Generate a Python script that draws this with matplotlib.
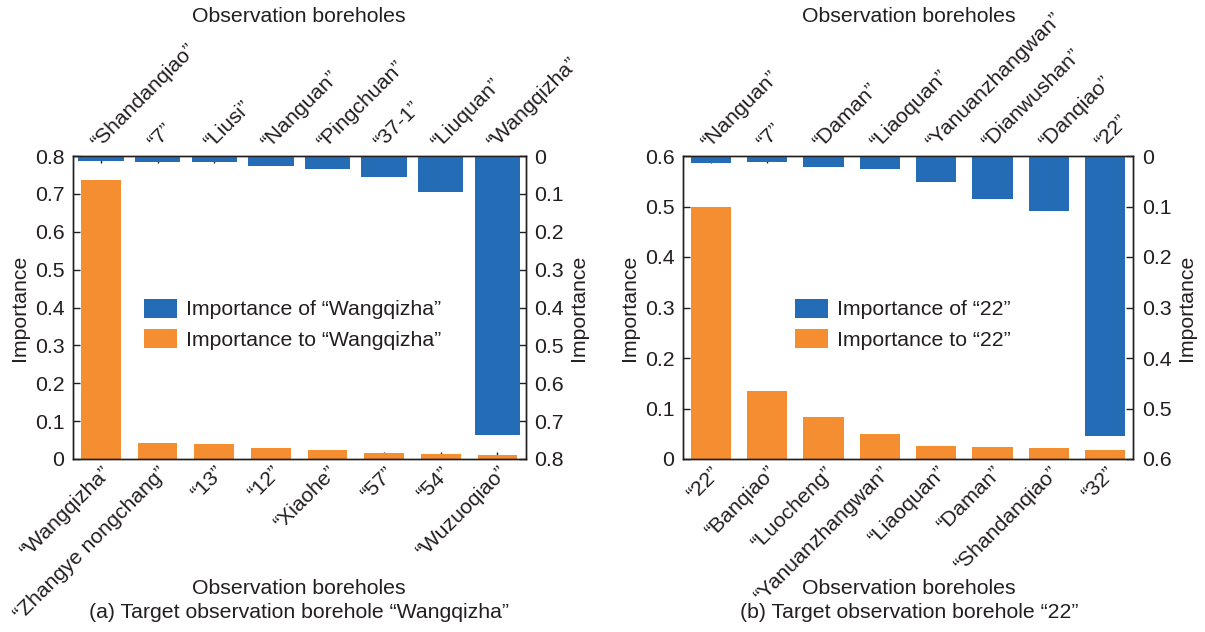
import matplotlib
matplotlib.use("Agg")
import matplotlib.pyplot as plt
from matplotlib.patches import Patch

FS = 15.3
plt.rcParams['font.family'] = ['Liberation Sans', 'DejaVu Sans']
plt.rcParams['font.size'] = FS
TXT = '#231F20'
BLUE = '#256CB7'
ORANGE = '#F48E31'

# Panel (a): target borehole "Wangqizha"
a_bottom_labels = ['“Wangqizha”', '“Zhangye nongchang”', '“13”', '“12”',
                   '“Xiaohe”', '“57”', '“54”', '“Wuzuoqiao”']
a_to = [0.737, 0.041, 0.039, 0.029, 0.024, 0.015, 0.014, 0.011]
a_top_labels = ['“Shandanqiao”', '“7”', '“Liusi”', '“Nanguan”',
                '“Pingchuan”', '“37-1”', '“Liuquan”', '“Wangqizha”']
a_of = [0.013, 0.017, 0.017, 0.026, 0.035, 0.056, 0.096, 0.736]
a_ymax = 0.8

# Panel (b): target borehole "22"
b_bottom_labels = ['“22”', '“Banqiao”', '“Luocheng”', '“Yanuanzhangwan”',
                   '“Liaoquan”', '“Daman”', '“Shandanqiao”', '“32”']
b_to = [0.500, 0.135, 0.084, 0.050, 0.025, 0.024, 0.021, 0.018]
b_top_labels = ['“Nanguan”', '“7”', '“Daman”', '“Liaoquan”',
                '“Yanuanzhangwan”', '“Dianwushan”', '“Danqiao”', '“22”']
b_of = [0.014, 0.012, 0.021, 0.026, 0.052, 0.086, 0.108, 0.554]
b_ymax = 0.6

W, H = 1205, 632
fig = plt.figure(figsize=(W / 100, H / 100), dpi=100)


def fmt(v):
    return '0' if v == 0 else f'{v:.1f}'


def panel(rect, bottom_labels, to_vals, top_labels, of_vals, ymax,
          target, w_to, w_of, leg_x):
    ax = fig.add_axes(rect)
    axb = fig.add_axes(rect, facecolor='none')
    n = len(to_vals)
    xs = list(range(n))
    ax.bar(xs, to_vals, width=w_to, color=ORANGE, zorder=2)
    axb.bar(xs, of_vals, width=w_of, color=BLUE, zorder=2)

    for a in (ax, axb):
        a.set_xlim(-0.5, n - 0.5)
        a.set_ylim(0, ymax)
        for s in a.spines.values():
            s.set_color(TXT)
            s.set_linewidth(1.0)
    axb.invert_yaxis()

    yt = [round(i * 0.1, 1) for i in range(int(round(ymax * 10)) + 1)]
    ax.set_yticks(yt, [fmt(v) for v in yt])
    axb.set_yticks(yt, [fmt(v) for v in yt])

    ax.set_xticks(xs)
    ax.set_xticklabels(bottom_labels, rotation=45, ha='right',
                       rotation_mode='anchor', color=TXT)
    axb.xaxis.tick_top()
    axb.yaxis.tick_right()
    axb.set_xticks(xs)
    axb.set_xticklabels(top_labels, rotation=45, ha='left',
                        rotation_mode='anchor', color=TXT)

    for a in (ax, axb):
        a.tick_params(direction='in', length=5, width=1, colors=TXT,
                      labelsize=FS, pad=6)
        a.tick_params(axis='x', pad=3)

    ax.set_ylabel('Importance', fontsize=FS, color=TXT, labelpad=4)
    axb.set_ylabel('Importance', fontsize=FS, color=TXT, labelpad=4)
    axb.yaxis.set_label_position('right')

    handles = [Patch(facecolor=BLUE, edgecolor='none'),
               Patch(facecolor=ORANGE, edgecolor='none')]
    axb.legend(handles, [f'Importance of “{target}”', f'Importance to “{target}”'],
               loc='center left', bbox_to_anchor=(leg_x, 0.445),
               frameon=False, fontsize=FS, handlelength=1.55,
               handleheight=1.0, handletextpad=0.45, labelspacing=0.45,
               borderpad=0, borderaxespad=0, labelcolor=TXT)
    return ax, axb


def frect(x0, x1, y0, y1):
    return [x0 / W, 1 - y1 / H, (x1 - x0) / W, (y1 - y0) / H]


panel(frect(72.7, 525.7, 156, 459), a_bottom_labels, a_to, a_top_labels,
      a_of, a_ymax, 'Wangqizha', 0.7, 0.8, 0.157)
panel(frect(682.7, 1133.3, 156, 459), b_bottom_labels, b_to, b_top_labels,
      b_of, b_ymax, '22', 0.72, 0.72, 0.249)

for cx in (299, 909):
    fig.text(cx / W, 1 - 17 / H, 'Observation boreholes', ha='center',
             va='center', fontsize=FS, color=TXT)
    fig.text(cx / W, 1 - 588 / H, 'Observation boreholes', ha='center',
             va='center', fontsize=FS, color=TXT)
fig.text(299 / W, 1 - 613 / H, '(a) Target observation borehole “Wangqizha”',
         ha='center', va='center', fontsize=FS, color=TXT)
fig.text(909 / W, 1 - 613 / H, '(b) Target observation borehole “22”',
         ha='center', va='center', fontsize=FS, color=TXT)

fig.savefig('out.png', dpi=100)
